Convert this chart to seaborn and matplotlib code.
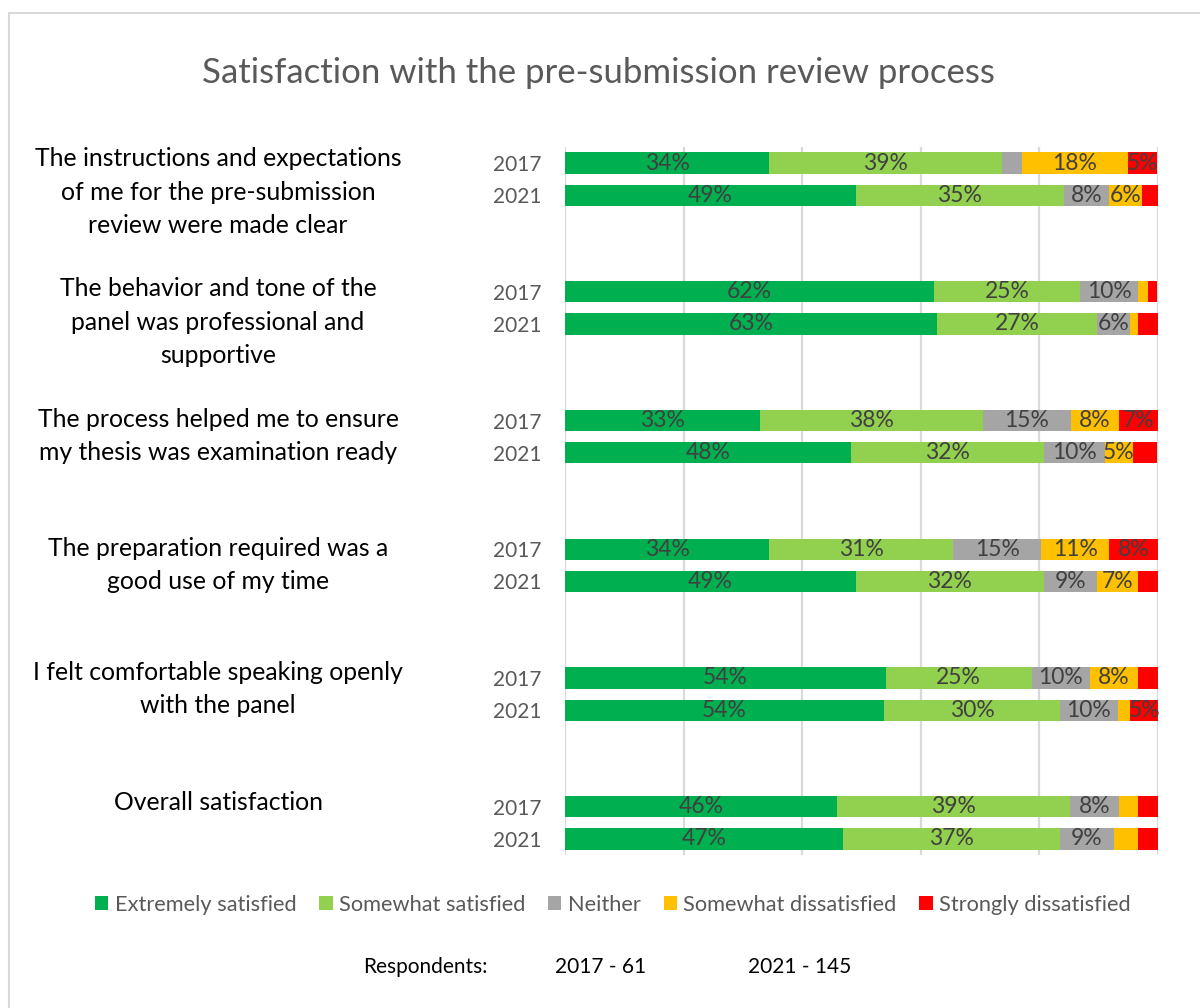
import numpy as np
import pandas as pd
import matplotlib
matplotlib.use("Agg")
import matplotlib.pyplot as plt
from matplotlib.patches import Patch
from matplotlib.lines import Line2D
import seaborn as sns

# ---------------- data ----------------
questions = [
    "The instructions and expectations\nof me for the pre-submission\nreview were made clear",
    "The behavior and tone of the\npanel was professional and\nsupportive",
    "The process helped me to ensure\nmy thesis was examination ready",
    "The preparation required was a\ngood use of my time",
    "I felt comfortable speaking openly\nwith the panel",
    "Overall satisfaction",
]
years = ["2017", "2021"]
categories = ["Extremely satisfied", "Somewhat satisfied", "Neither",
              "Somewhat dissatisfied", "Strongly dissatisfied"]
colors = ["#00b050", "#92d050", "#a5a5a5", "#ffc000", "#ff0000"]

# percentages, rows ordered Q1-2017, Q1-2021, Q2-2017, ...
extremely = [34.4, 49.0, 62.3, 62.8, 32.8, 48.3, 34.4, 49.0, 54.1, 53.8, 45.9, 46.9]
somewhat = [39.3, 35.2, 24.6, 26.9, 37.7, 32.4, 31.1, 31.7, 24.6, 29.7, 39.3, 36.6]
neither = [3.3, 7.6, 9.8, 5.52, 14.8, 10.3, 14.8, 9.0, 9.8, 9.7, 8.2, 9.0]
somewhat_dis = [18.0, 5.52, 1.6, 1.4, 8.2, 4.8, 11.48, 6.9, 8.2, 2.1, 3.3, 4.1]
strongly_dis = [4.9, 2.8, 1.6, 3.4, 6.6, 4.1, 8.2, 3.4, 3.3, 4.8, 3.3, 3.4]

respondents = ["2017 - 61", "2021 - 145"]

# ---------------- layout ----------------
W, H = 1200, 1008
FONT = ["Lato", "DejaVu Sans"]
sns.set_theme(style="white")
plt.rcParams["font.family"] = FONT

fig = plt.figure(figsize=(W / 100, H / 100), dpi=100)
fig.patch.set_facecolor("white")

ax_l, ax_r, ax_t, ax_b = 565, 1158, 147, 855
ax = fig.add_axes([ax_l / W, 1 - ax_b / H, (ax_r - ax_l) / W, (ax_b - ax_t) / H])

# row positions: 2 bars per question, 4 units per group
rows = []
for qi, q in enumerate(questions):
    for yi, yr in enumerate(years):
        rows.append((qi, yr, qi * 4 + yi))
pos = np.array([r[2] for r in rows], dtype=float)

vals = np.array([extremely, somewhat, neither, somewhat_dis, strongly_dis])  # (5, 12)
cum = np.cumsum(vals, axis=0)

# draw cumulative bars from last category to first
for k in range(len(categories) - 1, -1, -1):
    df = pd.DataFrame({"value": cum[k], "pos": pos})
    sns.barplot(data=df, x="value", y="pos", orient="y", native_scale=True,
                color=colors[k], saturation=1, width=0.66, linewidth=0,
                ax=ax, errorbar=None)

# data labels
for k in range(len(categories)):
    for i in range(len(pos)):
        v = vals[k, i]
        if round(v) >= 5:
            ax.text(cum[k, i] - v / 2, pos[i], f"{round(v)}%", ha="center",
                    va="center", fontsize=16.5, color="#404040")

ax.set_xlim(0, 100)
ax.set_ylim(21.5, -0.5)
ax.set_xticks(np.arange(0, 101, 20))
ax.set_xticklabels([])
ax.grid(axis="x", color="#d9d9d9", linewidth=1.6)
ax.grid(axis="y", visible=False)
ax.set_axisbelow(True)
for s in ax.spines.values():
    s.set_visible(False)
ax.set_yticks(pos)
ax.set_yticklabels([r[1] for r in rows], fontsize=15, color="#595959")
ax.tick_params(axis="y", length=0, pad=17)
ax.tick_params(axis="x", length=0)
ax.set_xlabel("")
ax.set_ylabel("")

# question labels (layout positions in pixels)
q_label_y = [192, 322, 436, 565, 689, 803]
for q, py in zip(questions, q_label_y):
    fig.text(218 / W, 1 - py / H, q, ha="center", va="center", fontsize=17.8,
             color="#000000", linespacing=1.55)

# title
fig.text(598 / W, 1 - 73 / H, "Satisfaction with the pre-submission review process",
         ha="center", va="center", fontsize=25, color="#595959")

# legend
handles = [Patch(facecolor=c, edgecolor="none", label=l) for c, l in zip(colors, categories)]
leg = fig.legend(handles=handles, loc="center", bbox_to_anchor=(613 / W, 1 - 905 / H),
                 ncol=5, frameon=False, fontsize=15.7, handlelength=0.6, handleheight=0.6,
                 handletextpad=0.3, columnspacing=1.05, labelcolor="#595959")

# respondents
fig.text(363 / W, 1 - 967 / H, "Respondents:", ha="left", va="center", fontsize=15, color="#000000")
fig.text(555 / W, 1 - 967 / H, respondents[0], ha="left", va="center", fontsize=15, color="#000000")
fig.text(748 / W, 1 - 967 / H, respondents[1], ha="left", va="center", fontsize=15, color="#000000")

# chart border (left and top visible)
fig.add_artist(Line2D([9 / W, 9 / W], [0, 1 - 13 / H], color="#d9d9d9", linewidth=1.5))
fig.add_artist(Line2D([9 / W, 1], [1 - 13 / H, 1 - 13 / H], color="#d9d9d9", linewidth=1.5))

fig.savefig("out.png", dpi=100)
